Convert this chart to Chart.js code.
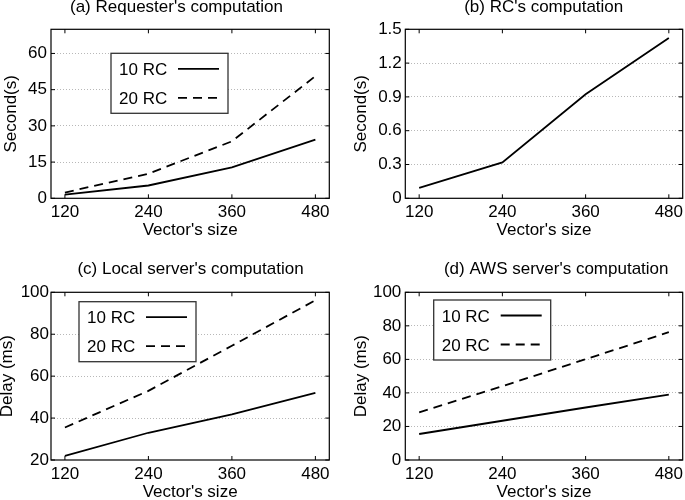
<!DOCTYPE html>
<html>
<head>
<meta charset="utf-8">
<script src="https://cdn.jsdelivr.net/npm/chart.js@4.4.1/dist/chart.umd.min.js"></script>
<style>
  html, body { margin: 0; padding: 0; background: #fff; overflow: hidden; }
  #wrap { position: relative; width: 685px; height: 500px; }
  canvas { position: absolute; }
</style>
</head>
<body>
<div id="wrap">
  <canvas id="chartA" width="342" height="250" style="left:0;top:0"></canvas>
  <canvas id="chartB" width="343" height="250" style="left:342px;top:0"></canvas>
  <canvas id="chartC" width="342" height="250" style="left:0;top:250px"></canvas>
  <canvas id="chartD" width="343" height="250" style="left:342px;top:250px"></canvas>
</div>
<script>
// x values shared by all four panels
const vectorSizes = [120, 240, 360, 480];
const xTicks = [120, 240, 360, 480];
const seriesNames = ['10 RC', '20 RC'];

// (a) requester's computation, seconds
const requester10 = [1.5, 5.3, 12.8, 24.3];
const requester20 = [2.4, 10.2, 23.6, 50.6];
// (b) RC's computation, seconds
const rcComp = [0.092, 0.318, 0.923, 1.423];
// (c) local server, ms
const local10 = [22, 33, 41.8, 52];
const local20 = [35.5, 53, 74.5, 96.2];
// (d) AWS server, ms
const aws10 = [15.5, 23.4, 31.3, 39];
const aws20 = [28.4, 44, 60.1, 76.2];

const yTicksA = [0, 15, 30, 45, 60];
const yTicksB = [0, 0.3, 0.6, 0.9, 1.2, 1.5];
const yTicksC = [20, 40, 60, 80, 100];
const yTicksD = [0, 20, 40, 60, 80, 100];

Chart.defaults.font.family = "'Liberation Sans', Arial, sans-serif";
Chart.defaults.font.size = 17;
Chart.defaults.color = '#000';

// frame box, inward tick marks, panel title and the boxed legend
const framePlugin = {
    id: 'frame',
    afterDatasetsDraw(chart, args, opts) {
        const { ctx, chartArea: a, scales } = chart;
        ctx.save();
        ctx.strokeStyle = '#000';
        ctx.lineWidth = 1.2;
        ctx.strokeRect(a.left, a.top, a.right - a.left, a.bottom - a.top);

        ctx.lineWidth = 1;
        ctx.beginPath();
        scales.x.ticks.forEach(t => {
            const px = scales.x.getPixelForValue(t.value);
            ctx.moveTo(px, a.bottom); ctx.lineTo(px, a.bottom - 4);
            ctx.moveTo(px, a.top); ctx.lineTo(px, a.top + 4);
        });
        scales.y.ticks.forEach(t => {
            const py = scales.y.getPixelForValue(t.value);
            ctx.moveTo(a.left, py); ctx.lineTo(a.left + 4, py);
            ctx.moveTo(a.right, py); ctx.lineTo(a.right - 4, py);
        });
        ctx.stroke();

        ctx.font = "17px 'Liberation Sans', Arial, sans-serif";
        ctx.fillStyle = '#000';
        ctx.textAlign = 'center';
        ctx.textBaseline = 'middle';
        ctx.fillText(opts.title, opts.titleX, opts.titleY);

        if (opts.legend) {
            const bx = a.left + opts.legend.x;
            const by = a.top + opts.legend.y;
            ctx.fillStyle = '#fff';
            ctx.fillRect(bx, by, 117, 60);
            ctx.strokeStyle = '#333';
            ctx.lineWidth = 1.3;
            ctx.strokeRect(bx, by, 117, 60);
            ctx.textAlign = 'left';
            chart.data.datasets.forEach((ds, i) => {
                const ty = by + 17 + 29 * i;
                ctx.fillStyle = '#000';
                ctx.fillText(ds.label, bx + 8, ty);
                ctx.strokeStyle = '#000';
                ctx.lineWidth = 1.8;
                ctx.setLineDash(ds.borderDash || []);
                ctx.beginPath();
                ctx.moveTo(bx + 67, ty - 1.5);
                ctx.lineTo(bx + 108, ty - 1.5);
                ctx.stroke();
                ctx.setLineDash([]);
            });
        }
        ctx.restore();
    }
};

const makeSeries = (label, values, dash) => ({
    label: label,
    data: vectorSizes.map((v, i) => ({ x: v, y: values[i] })),
    borderColor: '#000',
    borderWidth: 1.8,
    borderDash: dash,
    pointRadius: 0,
    tension: 0,
    fill: false,
});

const makePanel = (id, p) => {
    new Chart(document.getElementById(id), {
        type: 'line',
        data: { datasets: p.datasets },
        options: {
            responsive: false,
            animation: false,
            devicePixelRatio: 1,
            layout: { padding: { top: p.plotTop, right: p.padRight, left: 0, bottom: 0 } },
            plugins: {
                legend: { display: false },
                tooltip: { enabled: false },
                frame: { title: p.title, titleX: p.titleX, titleY: p.titleY, legend: p.legend },
            },
            scales: {
                x: {
                    type: 'linear',
                    min: 100,
                    max: 500,
                    afterBuildTicks: s => { s.ticks = xTicks.map(v => ({ value: v })); },
                    afterFit: s => { s.height = p.xAxisH; s.paddingLeft = 0; s.paddingRight = 0; },
                    grid: { display: false, drawTicks: false },
                    border: { display: false },
                    ticks: { padding: 4, maxRotation: 0, autoSkip: false },
                    title: {
                        display: true,
                        text: "Vector's size",
                        font: { lineHeight: 0.8 },
                        padding: { top: 0, bottom: p.xTitlePad },
                    },
                },
                y: {
                    min: p.yMin,
                    max: p.yMax,
                    afterBuildTicks: s => { s.ticks = p.yTicks.map(v => ({ value: v })); },
                    afterFit: s => { s.width = p.yAxisW; s.paddingTop = 0; s.paddingBottom = 0; },
                    grid: {
                        drawTicks: false,
                        lineWidth: 1,
                        color: c => (c.tick && (c.tick.value === p.yMin || c.tick.value === p.yMax)) ? 'rgba(0,0,0,0)' : '#b8b8b8',
                    },
                    border: { display: false, dash: [1, 2] },
                    ticks: { padding: p.yTickPad },
                    title: {
                        display: true,
                        text: p.yTitle,
                        font: { lineHeight: 0.8 },
                        padding: { top: p.yTitlePad, bottom: 0 },
                    },
                },
            },
        },
        plugins: [framePlugin],
    });
};

makePanel('chartA', {
    datasets: [makeSeries(seriesNames[0], requester10, []), makeSeries(seriesNames[1], requester20, [9, 6])],
    title: "(a) Requester's computation", titleX: 176.5, titleY: 7,
    yTitle: 'Second(s)', yMin: 0, yMax: 70, yTicks: yTicksA,
    plotTop: 29.3, padRight: 12.7, yAxisW: 51, xAxisH: 51.7,
    yTickPad: 4, yTitlePad: 4.7, xTitlePad: 13.2,
    legend: { x: 60, y: 24 },
});

makePanel('chartB', {
    datasets: [makeSeries('RC', rcComp, [])],
    title: "(b) RC's computation", titleX: 201.7, titleY: 7,
    yTitle: 'Second(s)', yMin: 0, yMax: 1.5, yTicks: yTicksB,
    plotTop: 29.3, padRight: 2.3, yAxisW: 63.3, xAxisH: 51.7,
    yTickPad: 3.5, yTitlePad: 13, xTitlePad: 13.2,
    legend: null,
});

makePanel('chartC', {
    datasets: [makeSeries(seriesNames[0], local10, []), makeSeries(seriesNames[1], local20, [9, 6])],
    title: "(c) Local server's computation", titleX: 190.5, titleY: 19.3,
    yTitle: 'Delay (ms)', yMin: 20, yMax: 100, yTicks: yTicksC,
    plotTop: 42.3, padRight: 12.7, yAxisW: 51, xAxisH: 40,
    yTickPad: 2, yTitlePad: 0.2, xTitlePad: 0.5,
    legend: { x: 28, y: 9.4 },
});

makePanel('chartD', {
    datasets: [makeSeries(seriesNames[0], aws10, []), makeSeries(seriesNames[1], aws20, [9, 6])],
    title: "(d) AWS server's computation", titleX: 214.2, titleY: 19.3,
    yTitle: 'Delay (ms)', yMin: 0, yMax: 100, yTicks: yTicksD,
    plotTop: 42.3, padRight: 2.3, yAxisW: 63.3, xAxisH: 40,
    yTickPad: 4, yTitlePad: 12.4, xTitlePad: 0.5,
    legend: { x: 28.4, y: 7.7 },
});
</script>
</body>
</html>
